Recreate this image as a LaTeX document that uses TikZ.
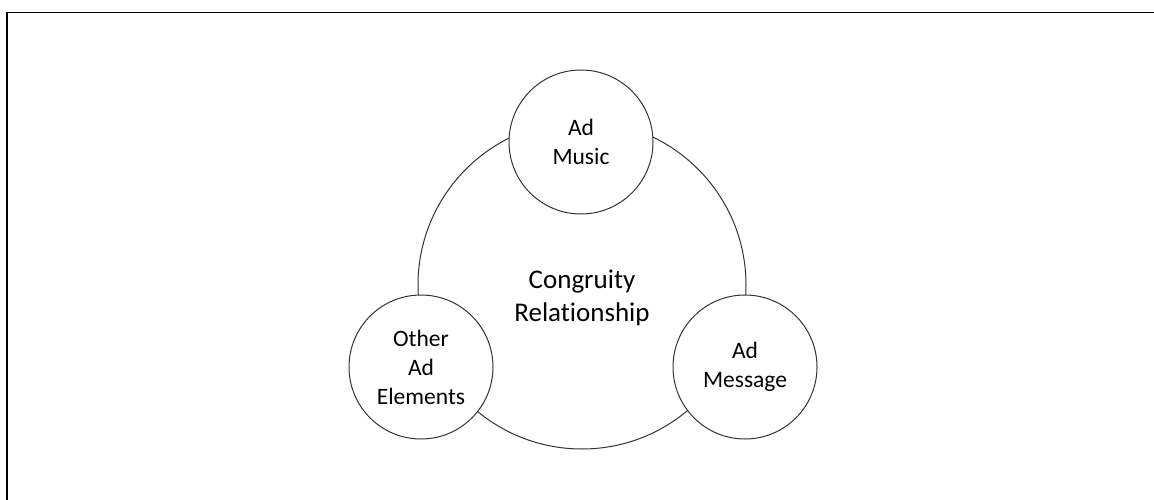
\documentclass[tikz,border=0pt]{standalone}
\usepackage{fontspec}
\setmainfont{Carlito}[Ligatures={NoCommon,NoContextual}]
\begin{document}
\begin{tikzpicture}[x=1pt,y=-1pt,
  ring/.style={circle,draw=black!80,line width=1pt,inner sep=0pt,minimum size=#1},
  small/.style={ring=144pt,fill=white,align=center,font=\fontsize{23.5}{29}\selectfont},
  frameline/.style={line width=1.4pt,black}]
\useasboundingbox (0,0) rectangle (1154,500);
\coordinate (fa) at (7,500);
\coordinate (fb) at (7,12.5);
\coordinate (fc) at (1154,12.5);
\draw[frameline] (fa) -- (fb) -- (fc);
\node[ring=328pt] (big) at (582,285) {};
\node[font=\fontsize{27}{33}\selectfont,align=center] (cong) at (582,298) {Congruity\\Relat\kern0pt ionship};
\node[small] (music) at (581,142) {Ad\\Music};
\node[small] (other) at (421,367) {Other\\Ad\\Elements};
\node[small] (msg) at (745,367) {Ad\\Message};
\end{tikzpicture}
\end{document}
